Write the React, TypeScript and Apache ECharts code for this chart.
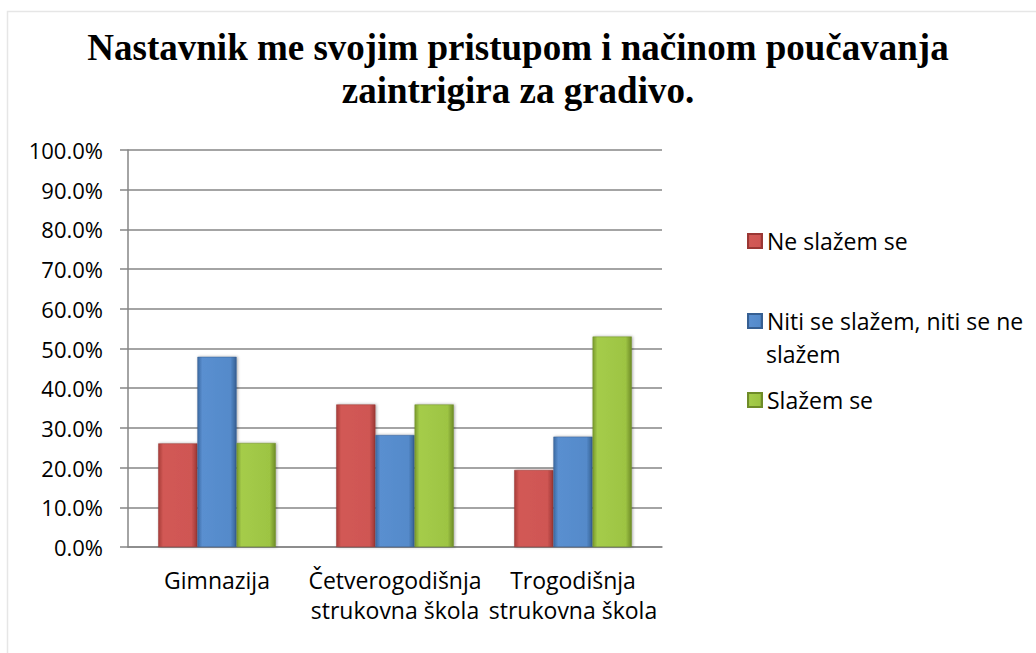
import React, { useEffect, useRef } from "react";
import * as echarts from "echarts";

const titleLines = ["Nastavnik me svojim pristupom i načinom poučavanja", "zaintrigira za gradivo."];
const categories = ["Gimnazija", "Četverogodišnja\nstrukovna škola", "Trogodišnja\nstrukovna škola"];
const seriesNames = ["Ne slažem se", "Niti se slažem, niti se ne slažem", "Slažem se"];
const neSlazem = [26.1, 35.9, 19.4];
const niti = [47.9, 28.2, 27.8];
const slazem = [26.2, 35.9, 53.0];
const yTicks = [0, 10, 20, 30, 40, 50, 60, 70, 80, 90, 100];

const colors = [
  ["#a83c39", "#d25955", "#cf5653", "#9b3734"],
  ["#3c6aa3", "#5a8fd0", "#548aca", "#365f92"],
  ["#7a9a2e", "#a5cc4a", "#9dc443", "#6f8c28"],
];
const legendIcon = ["#d6605c", "#5b91d3", "#a2c84a"];

function grad(c: string[]) {
  return new echarts.graphic.LinearGradient(0, 0, 1, 0, [
    { offset: 0, color: c[0] },
    { offset: 0.12, color: c[1] },
    { offset: 0.85, color: c[2] },
    { offset: 1, color: c[3] },
  ]);
}

export default function App() {
  const ref = useRef<HTMLDivElement>(null);
  useEffect(() => {
    document.body.style.margin = "0";
    const chart = echarts.init(ref.current!, null, { renderer: "svg" });
    const data = [neSlazem, niti, slazem];
    const font = "'Open Sans', sans-serif";
    const legendTops = [227, 307, 386];
    chart.setOption({
      animation: false,
      backgroundColor: "#ffffff",
      title: {
        text: titleLines.join("\n"),
        left: "center",
        top: 21,
        textStyle: {
          fontFamily: "'Liberation Serif', 'Times New Roman', serif",
          fontWeight: "bold",
          fontSize: 37,
          lineHeight: 43,
          color: "#000",
        },
      },
      graphic: [
        {
          type: "rect",
          shape: { x: 7.5, y: 11.5, width: 1100, height: 700 },
          style: { fill: "none", stroke: "#e6e6e6", lineWidth: 1.5 },
          silent: true,
        },
        {
          type: "text",
          left: 766,
          top: 340,
          style: { text: "slažem", font: "23px 'Open Sans', sans-serif", fill: "#000", lineHeight: 28 },
          silent: true,
        },
      ],
      legend: legendTops.map((t, i) => ({
        data: [seriesNames[i]],
        left: 747,
        top: t,
        padding: 0,
        itemWidth: 14,
        itemHeight: 14,
        itemGap: 0,
        icon: "rect",
        selectedMode: false,
        formatter: (n: string) => (n === seriesNames[1] ? "Niti se slažem, niti se ne" : n),
        textStyle: { fontFamily: font, fontSize: 23, color: "#000", lineHeight: 28 },
      })),
      grid: { left: 128, right: 374, top: 150, bottom: 106 },
      xAxis: {
        type: "category",
        data: categories,
        axisLine: { lineStyle: { color: "#868686", width: 1.5 } },
        axisTick: { alignWithLabel: false, length: 8, lineStyle: { color: "#868686", width: 1.5 } },
        axisLabel: { fontFamily: font, fontSize: 23, color: "#000", lineHeight: 30, margin: 18, interval: 0 },
      },
      yAxis: {
        type: "value",
        min: 0,
        max: 100,
        interval: 10,
        axisLine: { show: true, lineStyle: { color: "#868686", width: 1.5 } },
        axisTick: { show: true, length: 8, lineStyle: { color: "#868686", width: 1.5 } },
        splitLine: { lineStyle: { color: "#868686", width: 1.5 } },
        axisLabel: {
          fontFamily: font,
          fontSize: 22,
          color: "#000",
          margin: 25,
          formatter: (v: number) => (yTicks.includes(v) ? v.toFixed(1) + "%" : ""),
        },
      },
      series: data.map((d, i) => ({
        name: seriesNames[i],
        type: "bar",
        data: d,
        barGap: "0%",
        barCategoryGap: "34%",
        itemStyle: {
          color: grad(colors[i]),
          borderColor: colors[i][3],
          borderWidth: 0.5,
          shadowColor: "rgba(0,0,0,0.35)",
          shadowBlur: 3,
          shadowOffsetX: 1,
        },
      })),
      color: legendIcon,
    });
    return () => chart.dispose();
  }, []);
  return <div ref={ref} style={{ width: 1036, height: 653 }} />;
}
